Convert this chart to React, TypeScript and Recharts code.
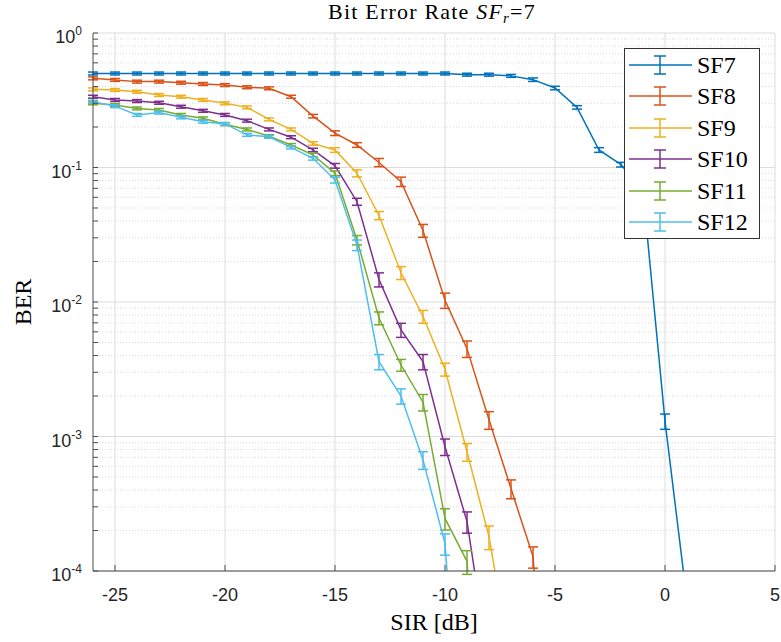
import { CartesianGrid, ErrorBar, Line, LineChart, XAxis, YAxis } from "recharts";

// SIR axis (dB), one point per dB
const sirDb = [
  -26, -25, -24, -23, -22, -21, -20, -19, -18, -17, -16, -15, -14, -13, -12, -11,
  -10, -9, -8, -7, -6, -5, -4, -3, -2, -1, 0, 1, 2, 3, 4, 5,
];

// BER (starting at -26 dB)
const sf7 = [
  0.5, 0.5, 0.5, 0.5, 0.5, 0.5, 0.5, 0.5, 0.5, 0.5, 0.5, 0.5, 0.5, 0.5, 0.5, 0.5,
  0.5, 0.49, 0.49, 0.48, 0.45, 0.39, 0.28, 0.135, 0.105, 0.067, 0.0013, 0.00006,
];
const sf8 = [
  0.46, 0.448, 0.435, 0.435, 0.427, 0.418, 0.41, 0.395, 0.388, 0.336, 0.241, 0.18,
  0.147, 0.109, 0.0785, 0.034, 0.0103, 0.0045, 0.00133, 0.00041, 0.000128, 0.000001,
];
const sf9 = [
  0.381, 0.377, 0.366, 0.346, 0.336, 0.318, 0.3, 0.28, 0.228, 0.192, 0.151, 0.135,
  0.0906, 0.044, 0.0165, 0.0078, 0.00316, 0.00077, 0.00018, 0.00002,
];
const sf10 = [
  0.336, 0.318, 0.312, 0.303, 0.283, 0.264, 0.246, 0.223, 0.192, 0.168, 0.135, 0.103,
  0.0557, 0.0147, 0.0062, 0.0036, 0.00084, 0.000233, 0.00002,
];
const sf11 = [
  0.3, 0.292, 0.275, 0.268, 0.246, 0.232, 0.21, 0.192, 0.171, 0.147, 0.124, 0.0906,
  0.0289, 0.0076, 0.0034, 0.0018, 0.000246, 0.000118, 0.000001,
];
const sf12 = [
  0.308, 0.286, 0.246, 0.256, 0.236, 0.219, 0.211, 0.175, 0.169, 0.141, 0.117, 0.0807,
  0.0265, 0.0036, 0.002, 0.00067, 0.00016, 0.000001,
];

// error bar half-heights, in percent of the value
const sf7Err = [
  2.5, 2.5, 2.5, 2.5, 2.5, 2.5, 2.5, 2.5, 2.5, 2.5, 2.5, 2.5, 2.5, 2.5, 2.5, 2.5,
  2.5, 2.5, 2.5, 2.5, 3, 3, 3, 4, 4, 5, 13, 0,
];
const sf8Err = [2.5, 2.5, 2.5, 2.5, 2.5, 2.5, 2.5, 2.5, 2.5, 2.5, 3, 4, 4, 7, 8, 11, 13, 14, 15, 16, 18, 0];
const sf9Err = [2.5, 2.5, 2.5, 2.5, 2.5, 2.5, 2.5, 2.5, 2.5, 2.5, 3, 4, 6, 7, 11, 11, 11, 15, 20, 0];
const sf10Err = [2.5, 2.5, 2.5, 2.5, 2.5, 2.5, 2.5, 2.5, 2.5, 2.5, 3, 4, 6, 12, 12, 13, 14, 18, 0];
const sf11Err = [2.5, 2.5, 2.5, 2.5, 2.5, 2.5, 2.5, 2.5, 2.5, 2.5, 3, 4, 8, 11, 10, 14, 18, 20, 0];
const sf12Err = [2.5, 2.5, 2.5, 2.5, 2.5, 2.5, 2.5, 2.5, 2.5, 2.5, 3, 5, 9, 13, 13, 15, 18, 0];

const xTicks = [-25, -20, -15, -10, -5, 0, 5];
const yTicks = [1e-4, 1e-3, 1e-2, 1e-1, 1];
const yMinor = [1e-4, 1e-3, 1e-2, 1e-1].flatMap((d) =>
  [2, 3, 4, 5, 6, 7, 8, 9].map((m) => +(m * d).toPrecision(3))
);
const yAllTicks = [...yTicks, ...yMinor].sort((a, b) => a - b);

const series = [
  { key: "sf7", name: "SF7", color: "#0072BD", values: sf7, err: sf7Err },
  { key: "sf8", name: "SF8", color: "#D95319", values: sf8, err: sf8Err },
  { key: "sf9", name: "SF9", color: "#EDB120", values: sf9, err: sf9Err },
  { key: "sf10", name: "SF10", color: "#7E2F8E", values: sf10, err: sf10Err },
  { key: "sf11", name: "SF11", color: "#77AC30", values: sf11, err: sf11Err },
  { key: "sf12", name: "SF12", color: "#4DBEEE", values: sf12, err: sf12Err },
];

const rows = sirDb.map((sir, i) => {
  const row: Record<string, any> = { sir };
  series.forEach((s) => {
    const v = s.values[i];
    const e = s.err[i];
    row[s.key] = v ?? null;
    row[s.key + "Err"] = v != null && e ? [(v * e) / 100, (v * e) / 100] : null;
  });
  return row;
});

const axisColor = "#4d4d4d";
const textColor = "#262626";
const serif = "'Liberation Serif', 'Times New Roman', serif";
const sans = "'Liberation Sans', Arial, sans-serif";

function PowTick(props: any) {
  const { x, y, payload } = props;
  const v = payload.value;
  if (!yTicks.includes(v)) return <g />;
  const exp = Math.round(Math.log10(v));
  return (
    <text x={x} y={y} textAnchor="end" fill={textColor} fontFamily={sans}>
      <tspan fontSize={18} dy={10}>
        10
      </tspan>
      <tspan fontSize={12} dy={-8}>
        {exp}
      </tspan>
    </text>
  );
}

function LegendBox() {
  return (
    <div
      style={{
        position: "absolute",
        left: 624,
        top: 48,
        width: 136,
        height: 191,
        boxSizing: "border-box",
        border: "1px solid #333",
        background: "#fff",
      }}
    >
      {series.map((s, i) => {
        const cy = 16 + i * 31.4;
        return (
          <div
            key={s.key}
            style={{ position: "absolute", left: 0, top: cy - 15, height: 30, width: 134 }}
          >
            <svg width={70} height={30} style={{ position: "absolute", left: 0, top: 0 }}>
              <line x1={4} y1={15} x2={67} y2={15} stroke={s.color} strokeWidth={1.5} />
              <line x1={35} y1={6} x2={35} y2={24} stroke={s.color} strokeWidth={1.5} />
              <line x1={29} y1={6} x2={41} y2={6} stroke={s.color} strokeWidth={1.5} />
              <line x1={29} y1={24} x2={41} y2={24} stroke={s.color} strokeWidth={1.5} />
            </svg>
            <span
              style={{
                position: "absolute",
                left: 72,
                top: 0,
                lineHeight: "30px",
                fontSize: 24,
                fontFamily: serif,
                color: "#000",
              }}
            >
              {s.name}
            </span>
          </div>
        );
      })}
    </div>
  );
}

export default function App() {
  return (
    <div
      style={{
        position: "absolute",
        left: 0,
        top: 0,
        width: 781,
        height: 642,
        background: "#fff",
        overflow: "hidden",
      }}
    >
      <LineChart
        width={781}
        height={642}
        data={rows}
        margin={{ top: 33, right: 6, bottom: 31, left: 33 }}
      >
        <CartesianGrid
          horizontalValues={yMinor}
          vertical={false}
          stroke="#dadada"
          strokeDasharray="1 2"
        />
        <CartesianGrid horizontalValues={yTicks} verticalValues={xTicks} stroke="#dcdcdc" />
        <XAxis
          dataKey="sir"
          type="number"
          domain={[-26, 5]}
          ticks={xTicks}
          interval={0}
          allowDataOverflow
          height={40}
          tickSize={-6}
          tickMargin={23}
          stroke={axisColor}
          tick={{ fill: textColor, fontSize: 18, fontFamily: sans }}
        />
        <XAxis
          xAxisId="top"
          orientation="top"
          type="number"
          domain={[-26, 5]}
          ticks={xTicks}
          interval={0}
          allowDataOverflow
          height={0}
          tick={false}
          tickSize={-6}
          stroke={axisColor}
        />
        <YAxis
          scale="log"
          type="number"
          domain={[1e-4, 1]}
          ticks={yAllTicks}
          interval={0}
          allowDataOverflow
          width={60}
          tickSize={-5}
          tickMargin={16}
          stroke={axisColor}
          tick={<PowTick />}
        />
        <YAxis
          yAxisId="right"
          orientation="right"
          scale="log"
          type="number"
          domain={[1e-4, 1]}
          ticks={yAllTicks}
          interval={0}
          allowDataOverflow
          width={0}
          tick={false}
          tickSize={-5}
          stroke={axisColor}
        />
        {series.map((s) => (
          <Line
            key={s.key}
            dataKey={s.key}
            name={s.name}
            type="linear"
            stroke={s.color}
            strokeWidth={1.5}
            dot={false}
            activeDot={false}
            isAnimationActive={false}
          >
            <ErrorBar
              dataKey={s.key + "Err"}
              direction="y"
              width={5}
              stroke={s.color}
              strokeWidth={1.5}
              isAnimationActive={false}
            />
          </Line>
        ))}
      </LineChart>

      <div
        style={{
          position: "absolute",
          left: 432,
          top: 0,
          transform: "translateX(-50%)",
          whiteSpace: "nowrap",
          fontFamily: serif,
          fontSize: 22,
          letterSpacing: "1.2px",
          lineHeight: "24px",
          color: "#000",
        }}
      >
        Bit Error Rate <i>SF</i>
        <i style={{ fontSize: 15, position: "relative", top: 4 }}>r</i>=7
      </div>
      <div
        style={{
          position: "absolute",
          left: 434,
          top: 607,
          transform: "translateX(-50%)",
          whiteSpace: "nowrap",
          fontFamily: serif,
          fontSize: 24,
          lineHeight: "30px",
          color: "#000",
        }}
      >
        SIR [dB]
      </div>
      <div
        style={{
          position: "absolute",
          left: 23,
          top: 302,
          transform: "translate(-50%, -50%) rotate(-90deg)",
          whiteSpace: "nowrap",
          fontFamily: serif,
          fontSize: 24,
          lineHeight: "30px",
          color: "#000",
        }}
      >
        BER
      </div>
      <LegendBox />
    </div>
  );
}
